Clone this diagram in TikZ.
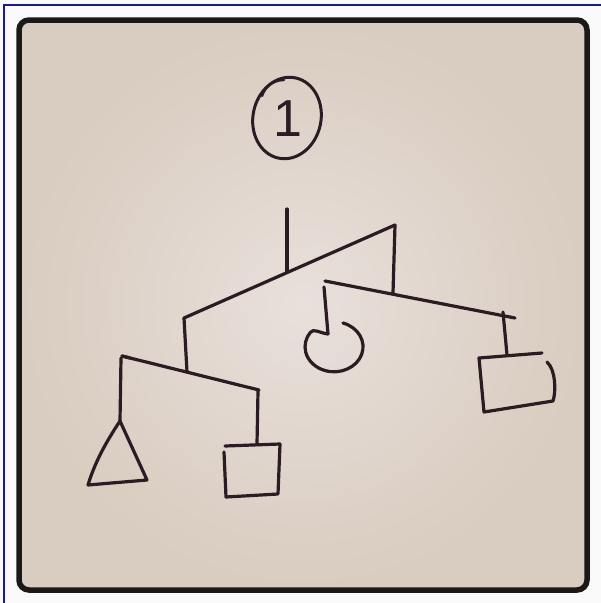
\documentclass[tikz,border=0pt]{standalone}
\usepackage{fontspec}
\newfontfamily\handfont{Liberation Sans}
\definecolor{ink}{HTML}{2A1C22}
\definecolor{paperlight}{HTML}{E8E0DB}
\definecolor{paperdark}{HTML}{D9CCC0}
\definecolor{framecol}{HTML}{1C1818}
\definecolor{edgeblue}{HTML}{1A1A8C}
\tikzset{
  pen/.style={draw=ink, line width=3.2pt, line cap=round, line join=round},
  digit/.style={text=ink, inner sep=0pt, font=\handfont\fontsize{52}{52}\selectfont}
}
\begin{document}
\begin{tikzpicture}[x=1pt,y=-1pt]
\useasboundingbox (0,0) rectangle (601,603);
\fill[white!95!gray] (0,0) rectangle (601,603);
\draw[edgeblue, line width=2pt] (4,603) -- (4,5) -- (601,5);
% paper and frame
\shade[rounded corners=10pt, inner color=paperlight, outer color=paperdark] (19,20) rectangle (587,590);
\draw[framecol, line width=5.5pt, rounded corners=10pt] (19,20) rectangle (587,590);

% number in circle
\draw[pen, line width=3pt, rotate around={-12:(287,118)}] (287,118) ellipse [x radius=34, y radius=41];
\draw[pen, line width=2.4pt] (262,96) .. controls (266,84) and (276,80) .. (284,80);
\node[digit] (num) at (288,119) {1};

% coordinates
\coordinate (top) at (287,209);
\coordinate (topj) at (287,272);
\coordinate (mainL) at (184,318);
\coordinate (mainR) at (395,225);
\coordinate (rightj) at (393,293);
\coordinate (subRL) at (325,281);
\coordinate (subRR) at (515,318);
\coordinate (leftj) at (187,372);
\coordinate (subLL) at (122,356);
\coordinate (subLR) at (259,390);

% main structure
\draw[pen] (top) -- (topj);
\draw[pen] (mainL) -- (mainR);
\draw[pen] (mainR) -- (rightj);
\draw[pen] (mainL) -- (leftj);
\draw[pen] (subRL) -- (subRR);
\draw[pen] (subLL) -- (subLR);
\draw[pen] (subLL) -- ++(8,2);

% circle pendant
\coordinate (cs1) at (324,287);
\coordinate (cs2) at (328,334);
\draw[pen] (cs1) -- (cs2);
\draw[pen] (343,323) arc[start angle=-72, end angle=215, x radius=29, y radius=25] .. controls (313,328) and (320,333) .. (cs2);

% right box pendant
\coordinate (rs1) at (503,312);
\coordinate (rs2) at (507,355);
\draw[pen] (rs1) -- (rs2);
\draw[pen] (542,353) -- (479,358) -- (484,412) -- (553,401)
  .. controls (556,392) and (556,370) .. (547,362);

% triangle pendant
\coordinate (ts1) at (121,358);
\coordinate (ts2) at (120,421);
\draw[pen] (ts1) -- (ts2);
\draw[pen] (ts2) .. controls (104,445) and (94,465) .. (88,485) -- (147,480) -- cycle;

% square pendant
\coordinate (ss1) at (258,391);
\coordinate (ss2) at (257,444);
\draw[pen] (ss1) -- (ss2);
\draw[pen] (225,446) -- (280,444) -- (278,494) -- (226,497) -- (224,452);
\end{tikzpicture}
\end{document}
